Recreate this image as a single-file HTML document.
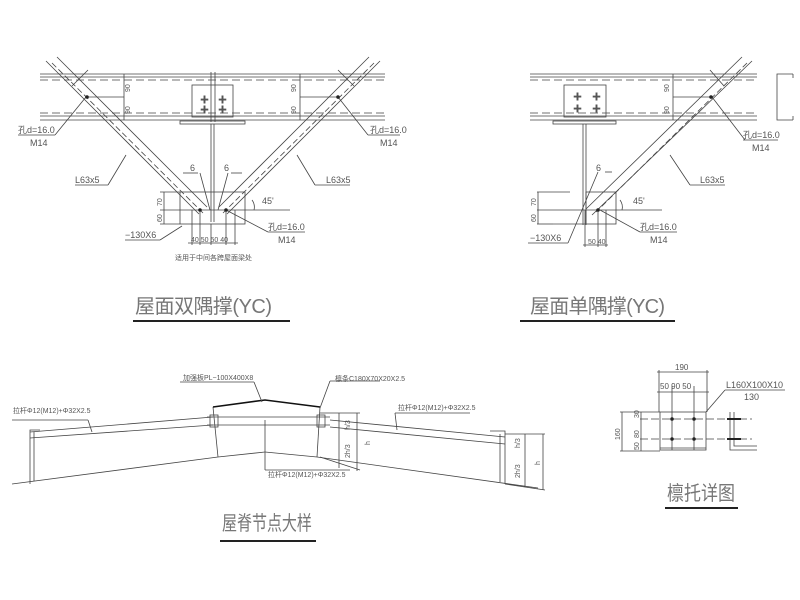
<!DOCTYPE html>
<html><head><meta charset="utf-8"><style>
html,body{margin:0;padding:0;background:#fff;}
svg{display:block;}
text{font-family:"Liberation Sans","Noto Sans CJK SC",sans-serif;fill:#555;}
.t{fill:#777;}
</style></head><body>
<svg width="800" height="600" viewBox="0 0 800 600" xmlns="http://www.w3.org/2000/svg">
<g stroke="#444" stroke-width="0.8" fill="none">
<line x1="40" y1="74" x2="385" y2="74"/><line x1="40" y1="77" x2="385" y2="77"/>
<line x1="40" y1="80" x2="385" y2="80" stroke-dasharray="8,4"/>
<line x1="40" y1="116" x2="385" y2="116"/><line x1="40" y1="120" x2="385" y2="120"/>
<line x1="40" y1="113" x2="385" y2="113" stroke-dasharray="8,4"/>
<line x1="211" y1="72" x2="211" y2="122"/><line x1="215" y1="72" x2="215" y2="122"/>
<rect x="192" y="85" width="41" height="32"/>
<rect x="180" y="121" width="65" height="3"/>
<line x1="211" y1="124" x2="211" y2="222"/><line x1="214" y1="124" x2="214" y2="222"/>
<rect x="180" y="192" width="65" height="32"/>
<line x1="46" y1="61" x2="199" y2="214"/><line x1="57" y1="57" x2="207" y2="207"/>
<line x1="52" y1="63" x2="203" y2="213" stroke-dasharray="6,3"/>
<line x1="72" y1="86" x2="88" y2="70"/>
<line x1="380" y1="61" x2="227" y2="214"/><line x1="369" y1="57" x2="219" y2="207"/>
<line x1="374" y1="63" x2="223" y2="213" stroke-dasharray="6,3"/>
<line x1="354" y1="86" x2="338" y2="70"/>
<line x1="124" y1="74" x2="124" y2="120"/><line x1="300" y1="74" x2="300" y2="120"/>
<line x1="86" y1="97" x2="124" y2="97"/><line x1="300" y1="97" x2="338" y2="97"/>
<line x1="160" y1="192" x2="180" y2="192"/><line x1="160" y1="210" x2="290" y2="210"/><line x1="160" y1="224" x2="180" y2="224"/>
<line x1="164" y1="192" x2="164" y2="224"/>
<line x1="192" y1="210" x2="192" y2="245"/><line x1="200" y1="210" x2="200" y2="245"/><line x1="211" y1="224" x2="211" y2="245"/>
<line x1="226" y1="210" x2="226" y2="245"/><line x1="235" y1="210" x2="235" y2="245"/>
<line x1="188" y1="243" x2="238" y2="243"/>
<line x1="86" y1="97" x2="55" y2="135"/><line x1="18" y1="135" x2="55" y2="135"/>
<line x1="338" y1="97" x2="368" y2="135"/><line x1="368" y1="135" x2="400" y2="135"/>
<line x1="126" y1="155" x2="108" y2="185"/><line x1="75" y1="185" x2="108" y2="185"/>
<line x1="297" y1="155" x2="315" y2="185"/><line x1="315" y1="185" x2="350" y2="185"/>
<line x1="226" y1="210" x2="268" y2="232"/><line x1="268" y1="232" x2="305" y2="232"/>
<line x1="182" y1="226" x2="160" y2="240"/><line x1="125" y1="240" x2="160" y2="240"/>
<line x1="183" y1="173" x2="198" y2="173"/><line x1="200" y1="173" x2="210" y2="210"/>
<line x1="231" y1="173" x2="242" y2="173"/><line x1="228" y1="173" x2="218" y2="210"/>
<path d="M252 200 A12 12 0 0 1 254 210"/>
<line x1="133" y1="321" x2="290" y2="321" stroke="#222" stroke-width="2"/>

<line x1="530" y1="74" x2="757" y2="74"/><line x1="530" y1="77" x2="757" y2="77"/>
<line x1="530" y1="80" x2="757" y2="80" stroke-dasharray="8,4"/>
<line x1="530" y1="116" x2="757" y2="116"/><line x1="530" y1="120" x2="757" y2="120"/>
<line x1="530" y1="113" x2="757" y2="113" stroke-dasharray="8,4"/>
<rect x="564" y="85" width="42" height="32"/>
<rect x="553" y="121" width="63" height="3"/>
<line x1="583" y1="124" x2="583" y2="225"/><line x1="586" y1="124" x2="586" y2="225"/>
<rect x="586" y="192" width="30" height="32"/>
<line x1="553" y1="224" x2="586" y2="224"/>
<path d="M793 74 H777 V120 H793 M793 74 V78 M793 120 V116"/>
<line x1="752" y1="61" x2="592" y2="215"/><line x1="742" y1="57" x2="586" y2="209"/>
<line x1="747" y1="63" x2="596" y2="212" stroke-dasharray="6,3"/>
<line x1="724" y1="86" x2="710" y2="70"/>
<line x1="673" y1="74" x2="673" y2="120"/><line x1="673" y1="97" x2="710" y2="97"/>
<line x1="537" y1="192" x2="570" y2="192"/><line x1="537" y1="210" x2="662" y2="210"/><line x1="537" y1="224" x2="553" y2="224"/>
<line x1="538" y1="192" x2="538" y2="224"/>
<line x1="585" y1="210" x2="585" y2="247"/><line x1="598" y1="210" x2="598" y2="247"/><line x1="606" y1="210" x2="606" y2="247"/>
<line x1="583" y1="245" x2="608" y2="245"/>
<line x1="712" y1="97" x2="745" y2="140"/><line x1="743" y1="140" x2="778" y2="140"/>
<line x1="670" y1="155" x2="690" y2="185"/><line x1="690" y1="185" x2="725" y2="185"/>
<line x1="600" y1="210" x2="640" y2="232"/><line x1="640" y1="232" x2="677" y2="232"/>
<line x1="598" y1="172" x2="568" y2="243"/><line x1="528" y1="243" x2="568" y2="243"/>
<line x1="605" y1="172" x2="612" y2="172"/>
<path d="M620 200 A12 12 0 0 1 622 210"/>
<line x1="520" y1="321" x2="675" y2="321" stroke="#222" stroke-width="2"/>

<line x1="12" y1="484" x2="218" y2="457"/><line x1="218" y1="457" x2="265" y2="452"/>
<line x1="265" y1="452" x2="317" y2="457"/><line x1="317" y1="457" x2="538" y2="488"/>
<line x1="30" y1="432" x2="213" y2="417"/><line x1="30" y1="438" x2="213" y2="425"/>
<path d="M40 430 H30 V484 M34 432 V481"/>
<line x1="213" y1="407" x2="218" y2="457"/><line x1="320" y1="407" x2="317" y2="457"/>
<path d="M213 407 L265 400 L320 407" stroke="#111" stroke-width="1.6"/>
<line x1="207" y1="417" x2="330" y2="417"/><line x1="207" y1="425" x2="330" y2="425"/>
<rect x="210" y="415" width="8" height="12"/><rect x="317" y="415" width="8" height="12"/>
<line x1="330" y1="420" x2="505" y2="437"/><line x1="330" y1="427" x2="505" y2="444"/>
<path d="M490 431 H505 V484 M500 434 V482"/>
<line x1="265" y1="420" x2="265" y2="470"/><line x1="265" y1="470" x2="350" y2="470"/>
<line x1="180" y1="382" x2="254" y2="382"/><line x1="254" y1="382" x2="262" y2="402"/>
<line x1="330" y1="381" x2="380" y2="381"/><line x1="330" y1="381" x2="320" y2="408"/>
<line x1="12" y1="420" x2="88" y2="420"/><line x1="88" y1="420" x2="92" y2="432"/>
<line x1="395" y1="413" x2="470" y2="413"/><line x1="395" y1="413" x2="397" y2="430"/>
<line x1="339" y1="413" x2="339" y2="468"/><line x1="357" y1="413" x2="357" y2="471"/>
<line x1="320" y1="413" x2="360" y2="413"/><line x1="320" y1="457" x2="360" y2="470"/>
<line x1="525" y1="434" x2="525" y2="487"/><line x1="543" y1="434" x2="543" y2="490"/>
<line x1="505" y1="434" x2="545" y2="434"/><line x1="505" y1="484" x2="545" y2="490"/>
<line x1="220" y1="541" x2="316" y2="541" stroke="#222" stroke-width="2"/>

<rect x="660" y="412" width="46" height="38"/>
<line x1="660" y1="448" x2="706" y2="448"/>
<line x1="672" y1="386" x2="672" y2="450"/><line x1="694" y1="386" x2="694" y2="450"/>
<line x1="659" y1="370" x2="659" y2="412"/><line x1="707" y1="370" x2="707" y2="412"/>
<line x1="657" y1="372" x2="709" y2="372"/><line x1="657" y1="392" x2="709" y2="392"/>
<line x1="620" y1="412" x2="660" y2="412"/><line x1="640" y1="419" x2="752" y2="419" stroke-dasharray="8,3"/>
<line x1="640" y1="439" x2="752" y2="439" stroke-dasharray="8,3"/><line x1="620" y1="451" x2="660" y2="451"/>
<line x1="622" y1="412" x2="622" y2="451"/><line x1="641" y1="412" x2="641" y2="451"/>
<path d="M730 412 V450 H757 M734 412 V446 H757"/>
<line x1="706" y1="412" x2="725" y2="390"/><line x1="725" y1="390" x2="785" y2="390"/>
<line x1="665" y1="508" x2="738" y2="508" stroke="#222" stroke-width="2"/>
</g>
<g fill="#222">
<circle cx="87" cy="97" r="1.8"/><circle cx="338" cy="97" r="1.8"/>
<circle cx="200" cy="210" r="1.8"/><circle cx="226" cy="210" r="1.8"/>
<circle cx="711" cy="97" r="1.8"/><circle cx="598" cy="210" r="1.8"/>
<circle cx="672" cy="419" r="1.8"/><circle cx="694" cy="419" r="1.8"/>
<circle cx="672" cy="439" r="1.8"/><circle cx="694" cy="439" r="1.8"/>
<rect x="727" y="418" width="14" height="2"/><rect x="727" y="438" width="14" height="2"/>
</g>
<g font-size="9">
<text x="200" y="103">✚</text><text x="218" y="103">✚</text><text x="200" y="113">✚</text><text x="218" y="113">✚</text>
<text x="573" y="100">✚</text><text x="592" y="100">✚</text><text x="573" y="112">✚</text><text x="592" y="112">✚</text>
</g>
<g font-size="9">
<text x="18" y="133">孔d=16.0</text><text x="30" y="146">M14</text>
<text x="370" y="133">孔d=16.0</text><text x="380" y="146">M14</text>
<text x="75" y="183">L63x5</text><text x="326" y="183">L63x5</text>
<text x="190" y="171">6</text><text x="224" y="171">6</text>
<text x="262" y="204">45'</text>
<text x="268" y="230">孔d=16.0</text><text x="278" y="243">M14</text>
<text x="125" y="238">−130X6</text>
<text x="191" y="242" font-size="7">40 50  50 40</text>
<text x="175" y="260" font-size="7">适用于中间各跨屋面梁处</text>
<text class="t" x="135" y="313" font-size="20" textLength="137">屋面双隅撑(YC)</text>
<text x="743" y="138">孔d=16.0</text><text x="752" y="151">M14</text>
<text x="700" y="183">L63x5</text>
<text x="596" y="171">6</text><text x="633" y="204">45'</text>
<text x="640" y="230">孔d=16.0</text><text x="650" y="243">M14</text>
<text x="530" y="241">−130X6</text>
<text x="588" y="244" font-size="7">50 40</text>
<text class="t" x="530" y="313" font-size="20" textLength="135">屋面单隅撑(YC)</text>
<text x="183" y="380" font-size="7">加强板PL−100X400X8</text>
<text x="335" y="381" font-size="7">檩条C180X70X20X2.5</text>
<text x="13" y="413" font-size="7">拉杆Φ12(M12)+Φ32X2.5</text>
<text x="398" y="410" font-size="7">拉杆Φ12(M12)+Φ32X2.5</text>
<text x="268" y="477" font-size="7">拉杆Φ12(M12)+Φ32X2.5</text>
<text class="t" transform="translate(222,530) scale(0.75,1)" font-size="20">屋脊节点大样</text>
<text x="675" y="370" font-size="8">190</text>
<text x="660" y="389" font-size="8">50  90  50</text>
<text x="726" y="388">L160X100X10</text><text x="744" y="400">130</text>
<text class="t" transform="translate(667,500) scale(0.85,1)" font-size="20">檩托详图</text>
</g>
<g font-size="7">
<text transform="translate(130,92) rotate(-90)">90</text><text transform="translate(130,114) rotate(-90)">90</text>
<text transform="translate(296,92) rotate(-90)">90</text><text transform="translate(296,114) rotate(-90)">90</text>
<text transform="translate(669,92) rotate(-90)">90</text><text transform="translate(669,114) rotate(-90)">90</text>
<text transform="translate(162,206) rotate(-90)">70</text><text transform="translate(162,222) rotate(-90)">60</text>
<text transform="translate(536,206) rotate(-90)">70</text><text transform="translate(536,222) rotate(-90)">60</text>
<text transform="translate(620,440) rotate(-90)">160</text>
<text transform="translate(639,418) rotate(-90)">30</text><text transform="translate(639,438) rotate(-90)">80</text><text transform="translate(639,450) rotate(-90)">50</text>
<text transform="translate(350,430) rotate(-90)">h/3</text><text transform="translate(350,458) rotate(-90)">2h/3</text><text transform="translate(370,445) rotate(-90)">h</text>
<text transform="translate(520,448) rotate(-90)">h/3</text><text transform="translate(520,478) rotate(-90)">2h/3</text><text transform="translate(540,465) rotate(-90)">h</text>
</g>
</svg>
</body></html>
